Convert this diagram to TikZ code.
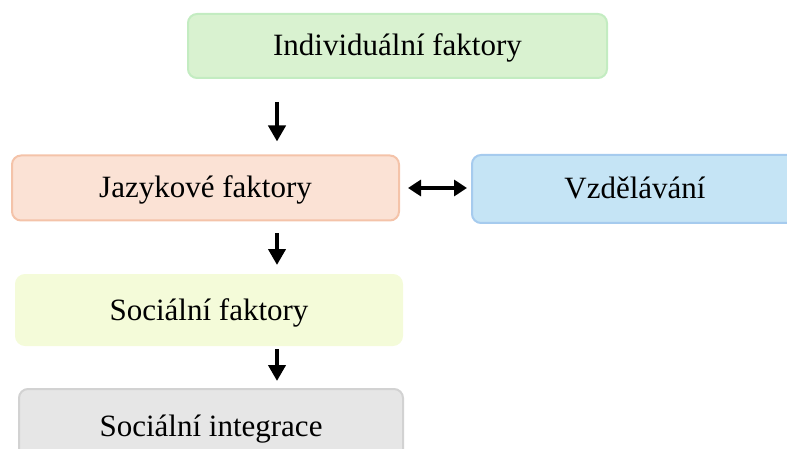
\documentclass[tikz,border=0pt]{standalone}
\usepackage{fontspec}
\setmainfont{Liberation Serif}
\usetikzlibrary{arrows.meta}

\definecolor{greenfill}{HTML}{D9F2D0}
\definecolor{greenline}{HTML}{C3ECC1}
\definecolor{orangefill}{HTML}{FBE2D5}
\definecolor{orangeline}{HTML}{F4C3A9}
\definecolor{bluefill}{HTML}{C5E4F5}
\definecolor{blueline}{HTML}{A6CBEE}
\definecolor{yellowfill}{HTML}{F4FBD9}
\definecolor{grayfill}{HTML}{E6E6E6}
\definecolor{grayline}{HTML}{D2D2D2}

\tikzset{
    factor/.style={rounded corners=9pt, line width=2pt, inner sep=0pt,
        text height=20pt, text depth=0pt,
        font=\fontsize{31}{35}\selectfont},
    flow/.style={line width=4pt, -{Triangle[length=16pt,width=17pt]}},
    both/.style={line width=4pt, {Triangle[length=13pt,width=16pt]}-{Triangle[length=13pt,width=16pt]}}
}

\begin{document}
\begin{tikzpicture}[x=1pt, y=1pt]
    \useasboundingbox (0,0) rectangle (787,-449);
    \clip (0,0) rectangle (787,-449);

    % Boxes
    \node[factor, draw=greenline, fill=greenfill, minimum width=419pt, minimum height=64pt]
        (indiv) at (397.5,-46) {Individuální faktory};
    \node[factor, draw=orangeline, fill=orangefill, minimum width=387pt, minimum height=65pt]
        (jazyk) at (205.5,-188) {Jazykové faktory};
    \node[factor, draw=blueline, fill=bluefill, minimum width=326pt, minimum height=68pt]
        (vzdel) at (635,-189) {Vzdělávání};
    \node[factor, draw=yellowfill, fill=yellowfill, minimum width=386pt, minimum height=70pt]
        (social) at (209,-310) {Sociální faktory};
    \node[factor, draw=grayline, fill=grayfill, minimum width=384pt, minimum height=74pt]
        (integ) at (211,-426) {Sociální integrace};

    % Arrows
    \coordinate (axis) at (277,0);
    \draw[flow] ([yshift=-23pt]indiv.south -| axis) -- ([yshift=13pt]jazyk.north -| axis);
    \draw[flow] ([yshift=-12pt]jazyk.south -| axis) -- ([yshift=9pt]social.north -| axis);
    \draw[flow] ([yshift=-3pt]social.south -| axis) -- ([yshift=7pt]integ.north -| axis);
    \draw[both] ([xshift=8pt]jazyk.east) -- ([xshift=-4pt]jazyk.east -| vzdel.west);
\end{tikzpicture}
\end{document}
